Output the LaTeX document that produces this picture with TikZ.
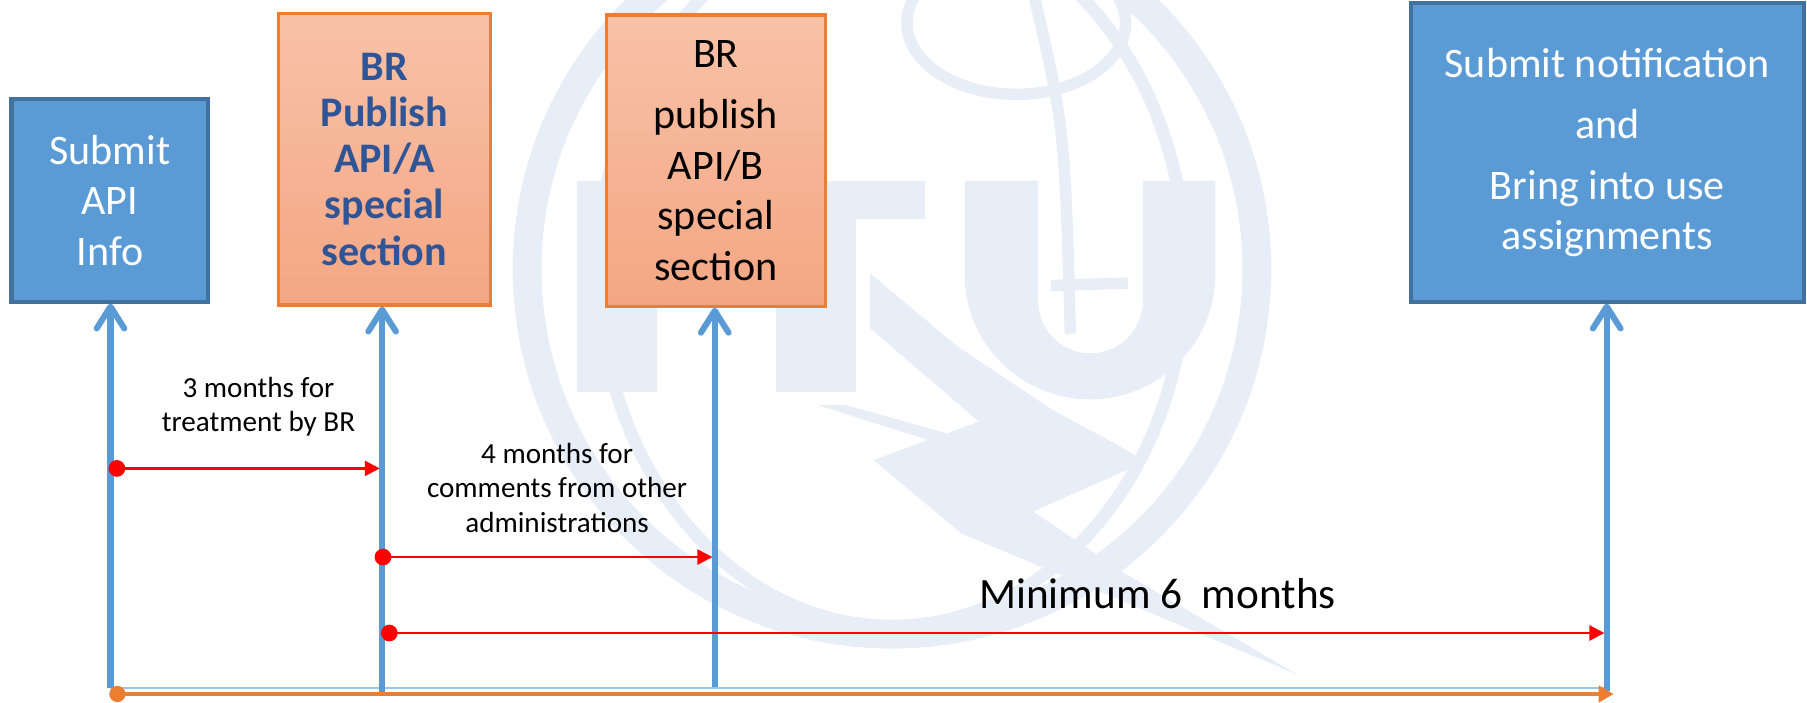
\documentclass[tikz,border=0pt]{standalone}
\usepackage{fontspec}
\setmainfont{Carlito}
\usepackage{xcolor}
\usepackage{tikz}
\usetikzlibrary{arrows.meta, positioning}

\definecolor{boxblue}{RGB}{91,155,213}
\definecolor{boxedge}{RGB}{65,113,156}
\definecolor{pubtop}{RGB}{248,194,168}
\definecolor{pubbottom}{RGB}{244,166,131}
\definecolor{pubedge}{RGB}{237,125,49}
\definecolor{pubtext}{RGB}{47,85,151}
\definecolor{axisorange}{RGB}{237,125,49}
\definecolor{axisblue}{RGB}{157,195,230}
\definecolor{ituwater}{RGB}{231,238,248}

\begin{document}
\begin{tikzpicture}[
    submit/.style={rectangle, draw=boxedge, line width=1pt, fill=boxblue, text=white, align=center, inner sep=0pt, font=\fontsize{10.4}{12.5}\selectfont},
    publish/.style={rectangle, draw=pubedge, line width=0.8pt, top color=pubtop, bottom color=pubbottom, align=center, inner sep=0pt, font=\fontsize{10.4}{12.5}\selectfont},
    timeline/.style={draw=boxblue, line width=1.5pt, -{Straight Barb[length=0.19cm, width=0.24cm, round]}},
    period/.style={red, line width=0.6pt, {Circle[length=0.145cm]}-{Triangle[length=0.13cm, width=0.13cm]}},
    note/.style={align=center, font=\fontsize{7.2}{8.5}\selectfont}
]
\useasboundingbox (0,0) rectangle (15.70,6.10);
\clip (0,0) rectangle (15.70,6.10);

% ITU watermark
\begin{scope}[color=ituwater]
\draw[line width=0.25cm] (7.75,3.76) circle (3.17);
\draw[line width=0.11cm] (7.75,3.76) ellipse (2.55 and 3.1);
\draw[line width=0.1cm] (8.83,5.90) ellipse (0.95 and 0.62);
\draw[line width=0.1cm] (8.97,6.2) .. controls (9.25,5.0) .. (9.30,3.2);
\draw[line width=0.1cm] (9.13,3.62) -- (9.80,3.64);
\fill (5.01,2.69) rectangle (5.71,4.53);
\fill (6.13,4.20) rectangle (8.04,4.53);
\fill (6.74,2.69) rectangle (7.44,4.20);
\fill (8.38,4.53) -- (8.38,3.72) arc[start angle=180, end angle=360, radius=1.09] -- (10.56,4.53) -- (9.93,4.53) -- (9.93,3.485) arc[start angle=0, end angle=-180, radius=0.455] -- (9.02,4.53) -- cycle;
\fill (7.560,3.725) -- (8.322,3.088) -- (9.145,2.538) -- (9.709,2.234) -- (9.953,2.089) -- (8.977,1.655) -- (9.557,1.264) -- (9.770,1.119) -- (11.279,0.236) -- (8.352,1.466) -- (7.590,2.103) -- (8.063,2.277) -- (7.102,2.581) -- (7.346,2.581) -- (8.230,2.335) -- (8.505,2.437) -- (7.560,3.247) -- cycle;
\end{scope}

% Steps
\node[submit, minimum width=1.71cm, minimum height=1.76cm] (api) at (0.955,4.36) {Submit\\API\\Info};
\node[publish, minimum width=1.84cm, minimum height=2.53cm, text=pubtext, font=\bfseries\fontsize{10.4}{11.4}\selectfont] (pubA) at (3.34,4.715) {BR\\Publish\\API/A\\special\\section};
\node[publish, minimum width=1.90cm, minimum height=2.53cm] (pubB) at (6.22,4.705) {BR\\[2.6pt]publish\\API/B\\special\\section};
\node[submit, minimum width=3.41cm, minimum height=2.59cm] (notif) at (13.965,4.775) {Submit notification\\[2.6pt]and\\[2.6pt]Bring into use\\assignments};

% Time lines
\coordinate (t1) at (0.96,0.12);
\coordinate (t2) at (3.32,0.09);
\coordinate (t3) at (6.21,0.13);
\coordinate (t4) at (13.96,0.10);

\draw[axisblue, line width=0.6pt] (t1) -- (t1 -| t4);
\draw[timeline] (t1) -- (t1 |- api.south);
\draw[timeline] (t2) -- (t2 |- pubA.south);
\draw[timeline] (t3) -- (t3 |- pubB.south);
\draw[timeline] (t4) -- (t4 |- notif.south);

\coordinate (start) at (0.95,0.07);
\coordinate (end) at (14.02,0.07);
\draw[axisorange, line width=1pt, {Circle[length=0.14cm]}-{Triangle[length=0.13cm, width=0.14cm]}] (start) -- (end);

% Periods
\coordinate (treatL) at (0.943,2.03);
\coordinate (treatR) at (3.30,2.03);
\coordinate (commL) at (3.255,1.26);
\coordinate (commR) at (6.19,1.26);
\coordinate (minL) at (3.31,0.60);
\coordinate (minR) at (13.94,0.60);

\draw[period] (treatL) -- (treatR);
\draw[period] (commL) -- (commR);
\draw[period] (minL) -- (minR);

\node[note] (treat) at (2.246,2.567) {3 months for\\treatment by BR};
\node[note] (comm) at (4.84,1.861) {4 months for\\comments from other\\administrations};
\node[font=\fontsize{10.7}{12.8}\selectfont] (minimum) at (10.057,0.94) {Minimum 6\ \ months};

\end{tikzpicture}
\end{document}
